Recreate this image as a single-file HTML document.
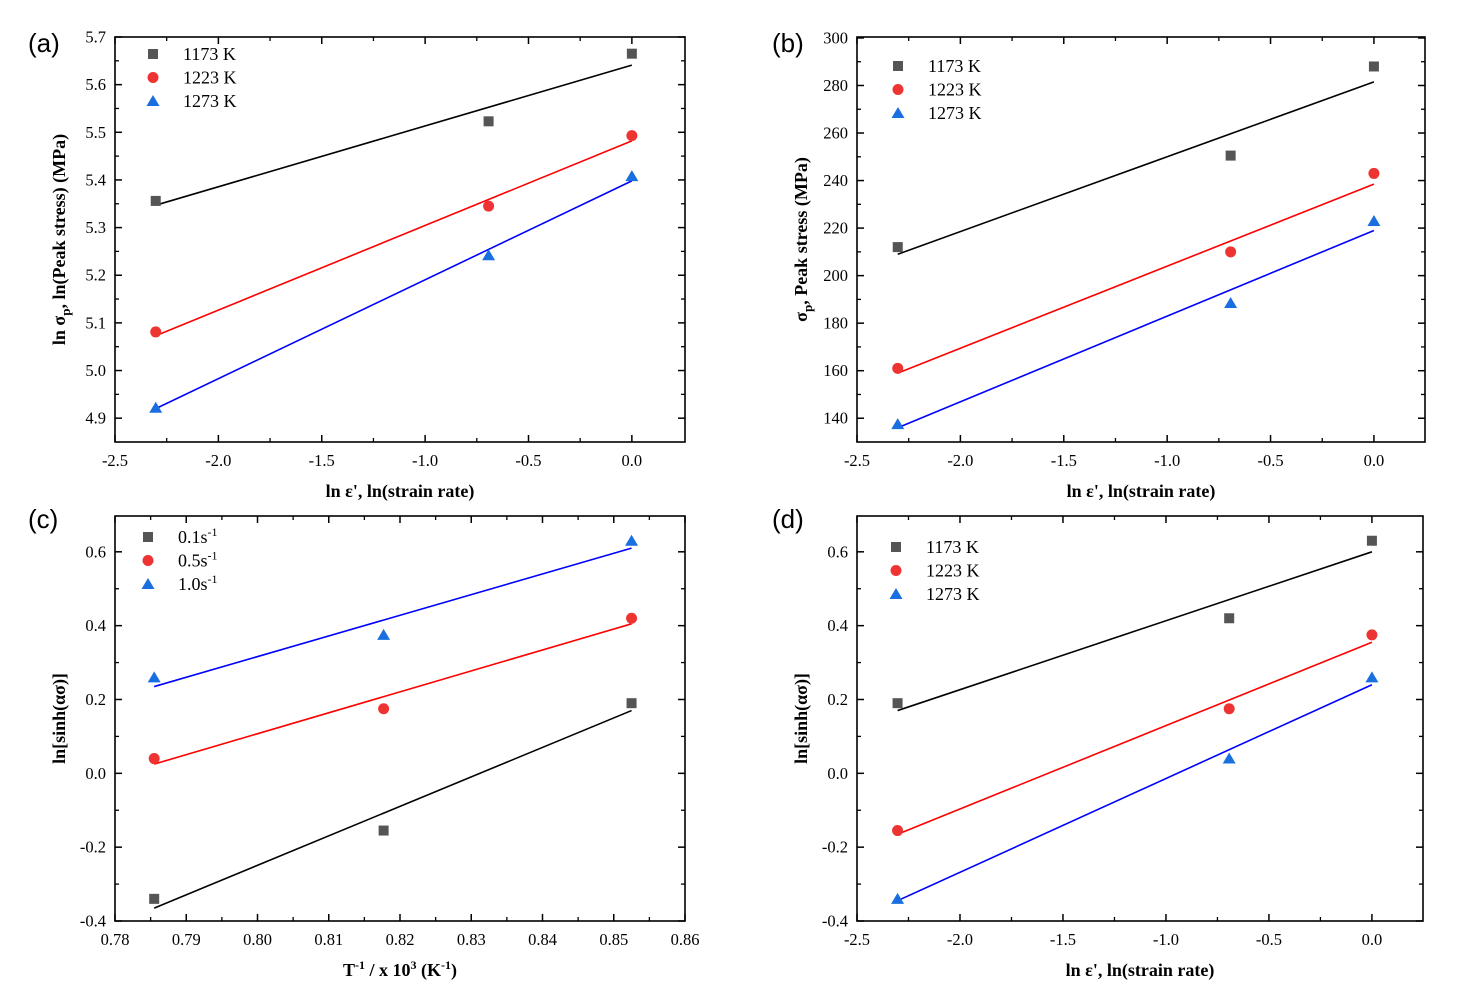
<!DOCTYPE html>
<html><head><meta charset="utf-8"><style>
body{margin:0;background:#fff;}
svg{display:block;}
text{font-family:"Liberation Serif",serif;}
text.lab{font-family:"Liberation Sans",sans-serif;}
</style></head><body>
<svg id="s" width="1458" height="1004" xmlns="http://www.w3.org/2000/svg"></svg>
<script>
const S=document.getElementById('s');let h='';
const C={k:'#555555',r:'#ee3333',b:'#1a6fe0'};
const L={k:'#000',r:'#ff0000',b:'#0000ff'};
function panel(p){
 const {x0,x1,y0,y1,xa,xb,ya,yb}=p;
 const X=v=>x0+(v-xa)/(xb-xa)*(x1-x0), Y=v=>y1-(v-ya)/(yb-ya)*(y1-y0);
 h+=`<rect x="${x0}" y="${y0}" width="${x1-x0}" height="${y1-y0}" fill="none" stroke="#000" stroke-width="1.6"/>`;
 for(let i=0;i<p.xt.length;i++){const v=p.xt[i],x=X(v);
  h+=`<line x1="${x}" y1="${y1}" x2="${x}" y2="${y1-7}" stroke="#000" stroke-width="1.5"/><line x1="${x}" y1="${y0}" x2="${x}" y2="${y0+7}" stroke="#000" stroke-width="1.5"/>`;
  h+=`<text x="${x}" y="${y1+24}" font-size="16.5" text-anchor="middle">${p.xl[i]}</text>`;
  if(i<p.xt.length-1){const m=X((v+p.xt[i+1])/2);if(m<x1)h+=`<line x1="${m}" y1="${y1}" x2="${m}" y2="${y1-4}" stroke="#000" stroke-width="1.3"/><line x1="${m}" y1="${y0}" x2="${m}" y2="${y0+4}" stroke="#000" stroke-width="1.3"/>`;}
 }
 for(let i=0;i<p.yt.length;i++){const v=p.yt[i],y=Y(v);
  h+=`<line x1="${x0}" y1="${y}" x2="${x0+7}" y2="${y}" stroke="#000" stroke-width="1.5"/><line x1="${x1}" y1="${y}" x2="${x1-7}" y2="${y}" stroke="#000" stroke-width="1.5"/>`;
  h+=`<text x="${x0-9}" y="${y+5.5}" font-size="16.5" text-anchor="end">${p.yl[i]}</text>`;
  if(i<p.yt.length-1){const m=Y((v+p.yt[i+1])/2);if(m>y0)h+=`<line x1="${x0}" y1="${m}" x2="${x0+4}" y2="${m}" stroke="#000" stroke-width="1.3"/><line x1="${x1}" y1="${m}" x2="${x1-4}" y2="${m}" stroke="#000" stroke-width="1.3"/>`;}
 }
 p.series.forEach(s=>{
  h+=`<line x1="${X(p.lx[0])}" y1="${Y(s.l[0])}" x2="${X(p.lx[1])}" y2="${Y(s.l[1])}" stroke="${L[s.c]}" stroke-width="1.6"/>`;
  p.px.forEach((xv,i)=>mark(s.c,X(xv),Y(s.p[i]),6));
 });
 p.leg.forEach((t,i)=>{const y=p.ly+i*23.5;mark(['k','r','b'][i],p.lgx,y,6);
  h+=`<text x="${p.lgx+30}" y="${y+6}" font-size="18">${t}</text>`;});
 h+=`<text class="lab" x="${p.lab[0]}" y="${p.lab[1]}" font-size="26">${p.lab[2]}</text>`;
 h+=`<text x="${(x0+x1)/2}" y="${y1+55}" font-size="18" font-weight="bold" text-anchor="middle">${p.xtitle}</text>`;
 h+=`<text transform="translate(${x0-50},${(y0+y1)/2}) rotate(-90)" font-size="18" font-weight="bold" text-anchor="middle">${p.ytitle}</text>`;
}
function mark(c,x,y,r){
 if(c=='k')h+=`<rect x="${x-5}" y="${y-5}" width="10" height="10" fill="${C.k}"/>`;
 else if(c=='r')h+=`<circle cx="${x}" cy="${y}" r="5.5" fill="${C.r}"/>`;
 else h+=`<polygon points="${x},${y-6} ${x+6.5},${y+5} ${x-6.5},${y+5}" fill="${C.b}"/>`;
}
const lnx=[-2.303,-0.693,0], xtl=[-2.5,-2,-1.5,-1,-0.5,0], xll=['-2.5','-2.0','-1.5','-1.0','-0.5','0.0'];
const TK=['1173 K','1223 K','1273 K'];
panel({x0:115,x1:685,y0:37,y1:442,xa:-2.5,xb:0.257,ya:4.85,yb:5.7,xt:xtl,xl:xll,
 yt:[4.9,5.0,5.1,5.2,5.3,5.4,5.5,5.6,5.7],yl:['4.9','5.0','5.1','5.2','5.3','5.4','5.5','5.6','5.7'],
 px:lnx,lx:[-2.303,0],series:[{c:'k',p:[5.356,5.523,5.665],l:[5.347,5.641]},{c:'r',p:[5.081,5.345,5.493],l:[5.073,5.482]},{c:'b',p:[4.922,5.242,5.408],l:[4.92,5.398]}],
 leg:TK,lgx:153,ly:54,lab:[28,52,'(a)'],xtitle:"ln ε', ln(strain rate)",ytitle:"ln σ<tspan font-size='13' dy='5'>p</tspan><tspan dy='-5'>, ln(Peak stress) (MPa)</tspan>"});
panel({x0:857,x1:1425,y0:37,y1:442,xa:-2.5,xb:0.247,ya:130,yb:300.4,xt:xtl,xl:xll,
 yt:[140,160,180,200,220,240,260,280,300],yl:['140','160','180','200','220','240','260','280','300'],
 px:lnx,lx:[-2.303,0],series:[{c:'k',p:[212,250.5,288],l:[209,281.5]},{c:'r',p:[161,210,243],l:[159,238.5]},{c:'b',p:[137.5,188.5,223],l:[136,219]}],
 leg:TK,lgx:898,ly:66,lab:[772,52,'(b)'],xtitle:"ln ε', ln(strain rate)",ytitle:"σ<tspan font-size='13' dy='5'>p</tspan><tspan dy='-5'>, Peak stress (MPa)</tspan>"});
panel({x0:115,x1:685,y0:516,y1:921,xa:0.78,xb:0.86,ya:-0.4,yb:0.697,xt:[0.78,0.79,0.8,0.81,0.82,0.83,0.84,0.85,0.86],xl:['0.78','0.79','0.80','0.81','0.82','0.83','0.84','0.85','0.86'],
 yt:[-0.4,-0.2,0,0.2,0.4,0.6],yl:['-0.4','-0.2','0.0','0.2','0.4','0.6'],
 px:[0.7855,0.8177,0.8525],lx:[0.7855,0.8525],series:[{c:'k',p:[-0.34,-0.155,0.19],l:[-0.365,0.17]},{c:'r',p:[0.04,0.175,0.42],l:[0.025,0.405]},{c:'b',p:[0.26,0.375,0.63],l:[0.235,0.61]}],
 leg:['0.1s<tspan font-size="12" dy="-7">-1</tspan>','0.5s<tspan font-size="12" dy="-7">-1</tspan>','1.0s<tspan font-size="12" dy="-7">-1</tspan>'],lgx:148,ly:537,lab:[28,528,'(c)'],
 xtitle:"T<tspan font-size='12' dy='-7'>-1</tspan><tspan dy='7'> / x 10</tspan><tspan font-size='12' dy='-7'>3</tspan><tspan dy='7'> (K</tspan><tspan font-size='12' dy='-7'>-1</tspan><tspan dy='7'>)</tspan>",ytitle:"ln[sinh(ασ)]"});
panel({x0:857,x1:1423,y0:516,y1:921,xa:-2.5,xb:0.248,ya:-0.4,yb:0.697,xt:xtl,xl:xll,
 yt:[-0.4,-0.2,0,0.2,0.4,0.6],yl:['-0.4','-0.2','0.0','0.2','0.4','0.6'],
 px:lnx,lx:[-2.303,0],series:[{c:'k',p:[0.19,0.42,0.63],l:[0.17,0.6]},{c:'r',p:[-0.155,0.175,0.375],l:[-0.165,0.355]},{c:'b',p:[-0.34,0.04,0.26],l:[-0.345,0.24]}],
 leg:TK,lgx:896,ly:547,lab:[772,528,'(d)'],xtitle:"ln ε', ln(strain rate)",ytitle:"ln[sinh(ασ)]"});
S.innerHTML=h;
</script>
</body></html>
